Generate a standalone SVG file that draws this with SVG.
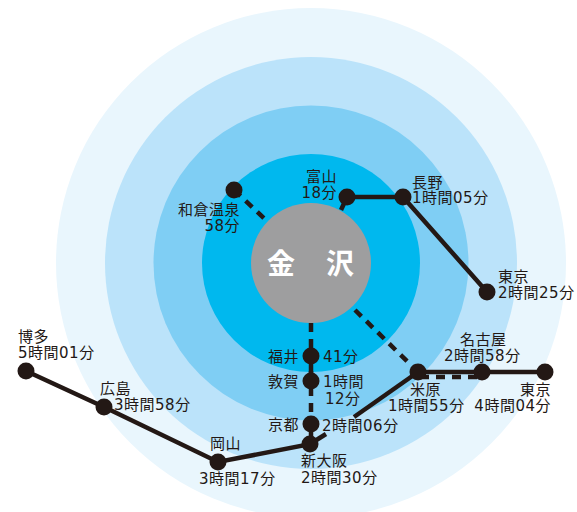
<svg xmlns="http://www.w3.org/2000/svg" width="577" height="512" viewBox="0 0 577 512">
<style>
.l{fill:none;stroke:#231815;stroke-width:4.500}
.d{stroke-dasharray:9 7}
.n{fill:#231815}
text{font-family:"DejaVu Sans","Noto Sans CJK JP",sans-serif;font-size:15px;letter-spacing:.5px;fill:#231815}
.e{text-anchor:end}
.t{font-family:"Noto Sans CJK JP",sans-serif;font-size:28px;font-weight:700;letter-spacing:0;fill:#fff}
</style>
<rect width="577" height="512" fill="#fff"/>
<g id="rings">
<circle cx="311" cy="263" r="255" fill="#e9f6fd"/>
<circle cx="311" cy="263" r="206" fill="#bbe3fa"/>
<circle cx="311" cy="263" r="157.500" fill="#7fcef4"/>
<circle cx="311" cy="263" r="109" fill="#00b8ee"/>
</g>
<g id="connectors">
<path class="l d" d="M234 190L268 222"/>
<path class="l" d="M347 197L341 210"/>
<path class="l" d="M347 197H403L487 292"/>
<path class="l d" d="M311 323V424"/>
<path class="l" d="M311 355V381"/>
<path class="l d" d="M355 310L418 372"/>
<path class="l" d="M418 372L354 417"/>
<path class="l" d="M326 434L310 444"/>
<path class="l" d="M311 424V444L218 462L104 407L26 371"/>
<path class="l" d="M418 372H545"/>
<path class="l d" d="M420 377H482" stroke-dasharray="9 5"/>
</g>
<g id="kanazawa"><circle cx="311" cy="263" r="60" fill="#9e9e9f"/><text class="t" x="267" y="274">金</text><text class="t" x="326" y="274">沢</text></g>
<g id="wakura"><circle class="n" cx="234" cy="190" r="8.500"/><text class="e" x="240" y="215">和倉温泉</text><text class="e" x="240" y="231">58分</text></g>
<g id="toyama"><circle class="n" cx="347" cy="197" r="8.500"/><text class="e" x="337" y="182">富山</text><text class="e" x="337" y="198">18分</text></g>
<g id="nagano"><circle class="n" cx="403" cy="197" r="8.500"/><text x="412" y="188">長野</text><text x="412" y="203">1時間05分</text></g>
<g id="tokyo1"><circle class="n" cx="487" cy="292" r="8.500"/><text x="498" y="282">東京</text><text x="498" y="298">2時間25分</text></g>
<g id="fukui"><circle class="n" cx="311" cy="356" r="8.500"/><text class="e" x="299" y="362">福井</text><text x="323" y="362">41分</text></g>
<g id="tsuruga"><circle class="n" cx="311" cy="381" r="8.500"/><text class="e" x="299" y="387">敦賀</text><text x="323" y="387">1時間</text><text x="325" y="404">12分</text></g>
<g id="kyoto"><circle class="n" cx="311" cy="424" r="8.500"/><text class="e" x="299" y="430">京都</text><text x="322" y="431">2時間06分</text></g>
<g id="shinosaka"><circle class="n" cx="310" cy="444" r="8.500"/><text x="301" y="466">新大阪</text><text x="301" y="483">2時間30分</text></g>
<g id="maibara"><circle class="n" cx="418" cy="372" r="8.500"/><text x="410" y="395">米原</text><text x="388" y="411">1時間55分</text></g>
<g id="nagoya"><circle class="n" cx="482" cy="372" r="8.500"/><text x="460" y="345">名古屋</text><text x="444" y="361">2時間58分</text></g>
<g id="tokyo2"><circle class="n" cx="545" cy="372" r="8.500"/><text class="e" x="551" y="395">東京</text><text class="e" x="551" y="411">4時間04分</text></g>
<g id="okayama"><circle class="n" cx="218" cy="462" r="8.500"/><text x="210" y="449">岡山</text><text x="199" y="484">3時間17分</text></g>
<g id="hiroshima"><circle class="n" cx="104" cy="407" r="8.500"/><text x="100" y="394">広島</text><text x="114" y="410">3時間58分</text></g>
<g id="hakata"><circle class="n" cx="26" cy="371" r="8.500"/><text x="18" y="342">博多</text><text x="18" y="358">5時間01分</text></g>
</svg>
